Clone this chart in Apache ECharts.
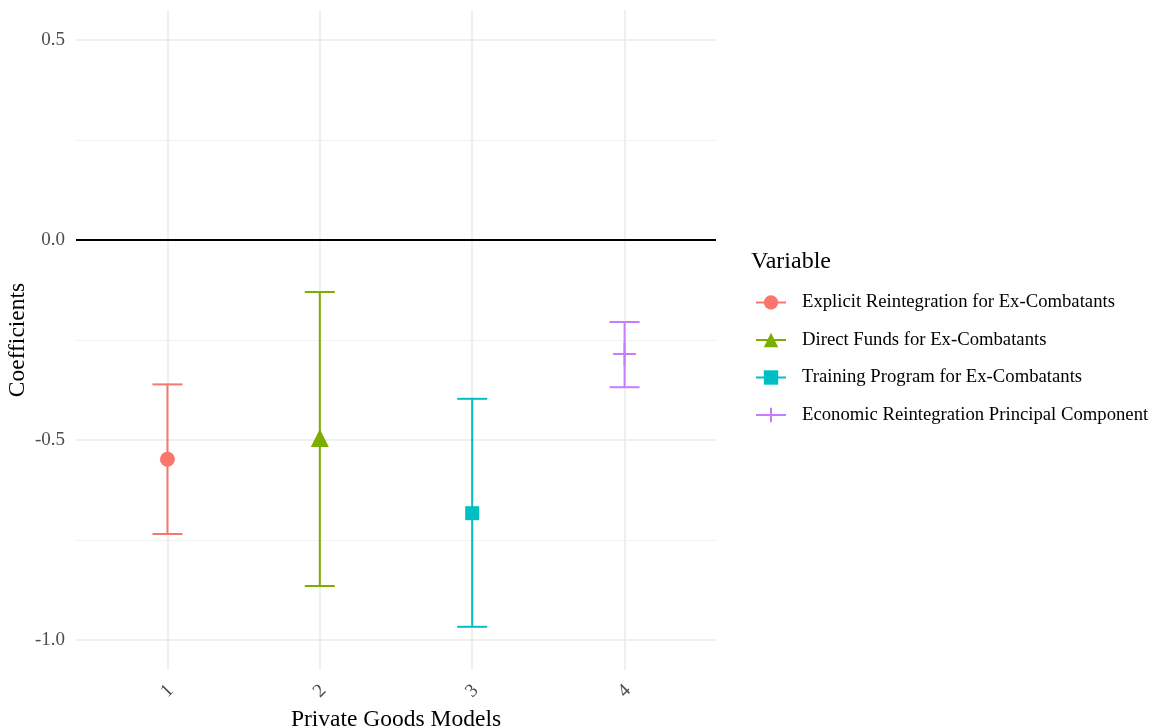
<!DOCTYPE html>
<html>
<head>
<meta charset="utf-8">
<script src="https://cdn.jsdelivr.net/npm/echarts@6/dist/echarts.min.js"></script>
<style>html,body{margin:0;padding:0;background:#fff}#c{width:1160px;height:727px}</style>
</head>
<body>
<div id="c"></div>
<script>
var variables = ['Explicit Reintegration for Ex-Combatants','Direct Funds for Ex-Combatants','Training Program for Ex-Combatants','Economic Reintegration Principal Component'];
var models = [1, 2, 3, 4];
var estimates = [-0.548, -0.495, -0.683, -0.285];
var lower = [-0.735, -0.865, -0.967, -0.368];
var upper = [-0.361, -0.130, -0.397, -0.205];
var yMajorTicks = [-1.0, -0.5, 0.0, 0.5];
var yMinorTicks = [-0.75, -0.25, 0.25];
var xTicks = [1, 2, 3, 4];

var colors = ['#F8766D', '#7CAE00', '#00BFC4', '#C77CFF'];
var symbols = ['circle', 'triangle', 'rect', 'path://M0,10 L20,10 M10,0 L10,20'];
var symbolSizes = [15, 18, 14, 23];
var FONT = 'Liberation Serif';

var chart = echarts.init(document.getElementById('c'));
var series = [];
variables.forEach(function (name, i) {
  series.push({
    type: 'custom',
    name: name + ' CI',
    z: 2,
    silent: true,
    renderItem: function (params, api) {
      var x = api.value(0);
      var top = api.coord([x, api.value(2)]);
      var bot = api.coord([x, api.value(1)]);
      var hw = 15;
      var st = { stroke: colors[i], lineWidth: 2 };
      return {
        type: 'group',
        children: [
          { type: 'line', shape: { x1: top[0], y1: top[1], x2: bot[0], y2: bot[1] }, style: st },
          { type: 'line', shape: { x1: top[0] - hw, y1: top[1], x2: top[0] + hw, y2: top[1] }, style: st },
          { type: 'line', shape: { x1: bot[0] - hw, y1: bot[1], x2: bot[0] + hw, y2: bot[1] }, style: st }
        ]
      };
    },
    data: [[models[i], lower[i], upper[i]]]
  });
  series.push({
    type: 'line',
    name: name,
    z: 3,
    symbol: symbols[i],
    symbolSize: symbolSizes[i],
    color: colors[i],
    itemStyle: { color: colors[i], borderColor: colors[i], borderWidth: i === 3 ? 2 : 0 },
    lineStyle: { color: colors[i], width: 2 },
    data: [[models[i], estimates[i]]]
  });
});
series.push({
  type: 'line',
  name: 'zero',
  data: [],
  z: 1,
  markLine: {
    silent: true,
    symbol: ['none', 'none'],
    label: { show: false },
    lineStyle: { color: '#000', width: 2, type: 'solid' },
    data: [{ yAxis: 0 }]
  }
});

chart.setOption({
  animation: false,
  backgroundColor: '#fff',
  title: {
    text: 'Variable',
    left: 751,
    top: 250,
    textStyle: { fontFamily: FONT, fontSize: 24, fontWeight: 'normal', color: '#000' },
    padding: 0
  },
  graphic: [{
    type: 'text',
    x: 18,
    y: 340,
    rotation: Math.PI / 2,
    style: {
      text: 'Coefficients',
      fontFamily: FONT,
      fontSize: 23.5,
      fill: '#000',
      align: 'center',
      verticalAlign: 'middle'
    }
  }],
  legend: {
    orient: 'vertical',
    left: 755,
    top: 293,
    itemWidth: 30,
    itemHeight: 18,
    itemGap: 18.5,
    data: variables,
    textStyle: { fontFamily: FONT, fontSize: 18.7, color: '#000', padding: [0, 0, 0, 11] },
    padding: 0
  },
  grid: { left: 76, right: 444, top: 10, bottom: 57, containLabel: false, outerBoundsMode: 'none' },
  xAxis: {
    type: 'value',
    min: 0.4,
    max: 4.6,
    name: 'Private Goods Models',
    nameLocation: 'middle',
    nameGap: 30,
    nameTextStyle: { fontFamily: FONT, fontSize: 23.5, color: '#000' },
    axisLine: { show: false },
    axisTick: { show: false, customValues: xTicks },
    axisLabel: { customValues: xTicks, rotate: 45, align: 'center', verticalAlign: 'middle', margin: 21,
      fontFamily: FONT, fontSize: 19, color: '#4d4d4d' },
    splitLine: { show: true, lineStyle: { color: '#ebebeb', width: 1.6 } }
  },
  yAxis: [{
    type: 'value',
    min: -1.075,
    max: 0.575,
    axisLine: { show: false },
    axisTick: { show: false, customValues: yMajorTicks },
    axisLabel: { customValues: yMajorTicks, margin: 11, fontFamily: FONT, fontSize: 19, color: '#4d4d4d',
      formatter: function (v) { return v.toFixed(1); } },
    splitLine: { show: true, lineStyle: { color: '#ebebeb', width: 1.6 } }
  }, {
    type: 'value',
    min: -1.075,
    max: 0.575,
    position: 'left',
    axisLine: { show: false },
    axisTick: { show: false, customValues: yMinorTicks },
    axisLabel: { show: false, customValues: yMinorTicks },
    splitLine: { show: true, lineStyle: { color: '#f2f2f2', width: 1 } }
  }],
  series: series
});
</script>
</body>
</html>
